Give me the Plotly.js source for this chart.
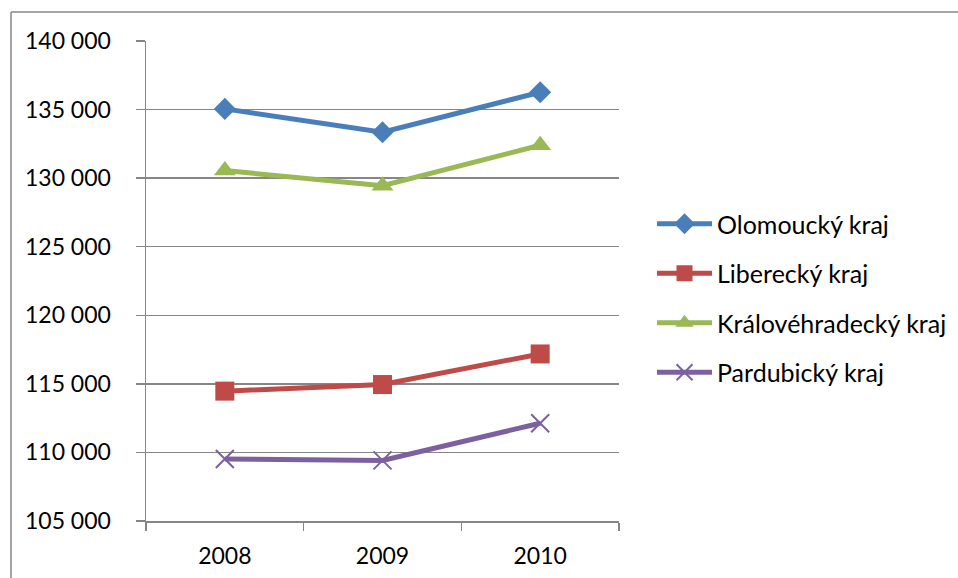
<!DOCTYPE html>
<html>
<head>
<meta charset="utf-8">
<script src="https://cdn.plot.ly/plotly-3.0.1.min.js"></script>
<style>
html,body{margin:0;padding:0;background:#fff;overflow:hidden;}
#chart{width:958px;height:578px;}
</style>
</head>
<body>
<div id="chart"></div>
<script>
var years = ['2008', '2009', '2010'];
var olomoucky = [135050, 133350, 136260];
var liberecky = [114470, 114950, 117180];
var kralovehradecky = [130550, 129450, 132400];
var pardubicky = [109520, 109420, 112130];
var yTicks = [105000, 110000, 115000, 120000, 125000, 130000, 135000, 140000];

var FONT = 'Lato, "Open Sans", sans-serif';

function series(name, values, color, symbol, size, group) {
  var marker = {symbol: symbol, size: size, color: color};
  if (symbol === 'x-thin') {
    marker.line = {color: color, width: 2};
  }
  return {
    type: 'scatter', mode: 'lines+markers', name: name,
    x: years, y: values, legendgroup: group,
    line: {color: color, width: 5},
    marker: marker
  };
}

var data = [
  series('Olomoucký kraj', olomoucky, '#4A7EBB', 'diamond', 17, 'a'),
  series('Liberecký kraj', liberecky, '#BE4B48', 'square', 19, 'b'),
  series('Královéhradecký kraj', kralovehradecky, '#98B954', 'triangle-up', 19, 'c'),
  series('Pardubický kraj', pardubicky, '#7D60A0', 'x-thin', 18, 'd')
];

var layout = {
  width: 958, height: 578,
  margin: {l: 146, r: 339, t: 41, b: 57, autoexpand: false},
  paper_bgcolor: '#fff', plot_bgcolor: '#fff',
  separators: ', ',
  font: {family: FONT, size: 23, color: '#000'},
  showlegend: true,
  legend: {
    xref: 'container', yref: 'container',
    x: 652 / 958, xanchor: 'left', y: 1 - 298 / 578, yanchor: 'middle',
    traceorder: 'grouped', tracegroupgap: 14,
    font: {family: FONT, size: 25, color: '#000'},
    bgcolor: 'rgba(0,0,0,0)', itemwidth: 55
  },
  xaxis: {
    type: 'category', range: [-0.5, 2.5], tickson: 'boundaries',
    ticks: 'outside', ticklen: 8, tickwidth: 1.5, tickcolor: '#868686',
    showline: true, linecolor: '#868686', linewidth: 1.5,
    showgrid: false, zeroline: false,
    ticklabelstandoff: 14,
    tickfont: {family: FONT, size: 23, color: '#000'},
    fixedrange: true
  },
  yaxis: {
    range: [105000, 140000],
    tickvals: yTicks, tickformat: ',d',
    ticks: 'outside', ticklen: 9, tickwidth: 1.5, tickcolor: '#868686',
    showline: true, linecolor: '#868686', linewidth: 1.5,
    showgrid: true, gridcolor: '#868686', gridwidth: 1.5,
    zeroline: false,
    ticklabelstandoff: 20,
    tickfont: {family: FONT, size: 23, color: '#000'},
    fixedrange: true
  },
  shapes: [
    {type: 'line', xref: 'paper', yref: 'paper',
     x0: (11 - 146) / 473, x1: 1.8, y0: (521 - 12) / 480, y1: (521 - 12) / 480,
     line: {color: '#878787', width: 1.5}},
    {type: 'line', xref: 'paper', yref: 'paper',
     x0: (11 - 146) / 473, x1: (11 - 146) / 473, y0: (521 - 12) / 480, y1: -0.3,
     line: {color: '#878787', width: 1.5}}
  ]
};

Plotly.newPlot('chart', data, layout, {displayModeBar: false, staticPlot: true});
</script>
</body>
</html>
